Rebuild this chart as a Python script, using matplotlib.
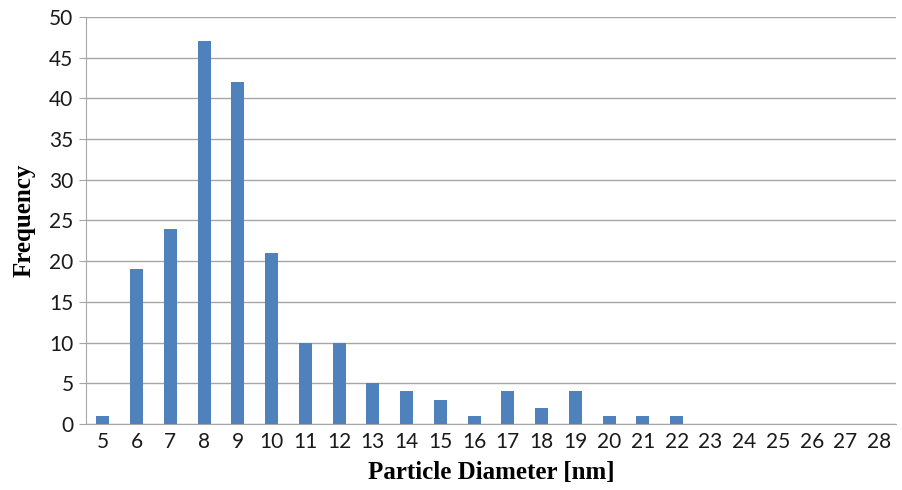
import matplotlib
matplotlib.use("Agg")
import matplotlib.pyplot as plt
import numpy as np

diameters = list(range(5, 29))
frequency = [1, 19, 24, 47, 42, 21, 10, 10, 5, 4, 3, 1, 4, 2, 4, 1, 1, 1, 0, 0, 0, 0, 0, 0]
y_ticks = list(range(0, 55, 5))

fig = plt.figure(figsize=(9.03, 4.90), dpi=100)
ax = fig.add_axes([0.0952, 0.1347, 0.8971, 0.8306])

x = np.arange(len(diameters))
ax.bar(x, frequency, width=0.39, color="#4F81BD", zorder=3)

ax.set_xlim(-0.5, len(diameters) - 0.5)
ax.set_ylim(0, 50)
ax.set_yticks(y_ticks)
ax.set_xticks(x)
ax.set_xticklabels([str(d) for d in diameters])
ax.yaxis.grid(True, color="#A6A6A6", linewidth=1.0, zorder=0)
ax.xaxis.grid(False)

for s in ["top", "right"]:
    ax.spines[s].set_visible(False)
ax.spines["left"].set_color("#A6A6A6")
ax.spines["bottom"].set_color("#A6A6A6")
ax.tick_params(axis="y", length=5, color="#A6A6A6", labelsize=15, pad=4)
ax.tick_params(axis="x", length=0, labelsize=15, pad=6)
for lab in ax.get_xticklabels() + ax.get_yticklabels():
    lab.set_fontfamily("Lato")
    lab.set_color("#1a1a1a")

ax.set_xlabel("Particle Diameter [nm]", fontfamily="Liberation Serif", fontweight="bold", fontsize=18, labelpad=6)
ax.set_ylabel("Frequency", fontfamily="Liberation Serif", fontweight="bold", fontsize=18, labelpad=10)

fig.savefig("out.png", dpi=100)
